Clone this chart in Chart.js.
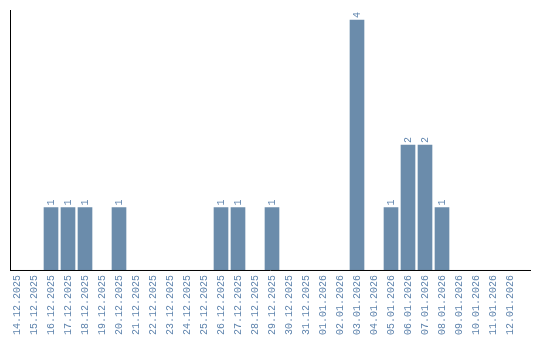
<!DOCTYPE html>
<html>
<head>
<meta charset="utf-8">
<script src="https://cdn.jsdelivr.net/npm/chart.js@4/dist/chart.umd.min.js"></script>
<style>
    body { margin: 0; background: #fff; }
    canvas { display: block; }
</style>
</head>
<body>
<canvas id="chart" width="540" height="340"></canvas>
<script>
const days = [
    "14.12.2025", "15.12.2025", "16.12.2025", "17.12.2025", "18.12.2025",
    "19.12.2025", "20.12.2025", "21.12.2025", "22.12.2025", "23.12.2025",
    "24.12.2025", "25.12.2025", "26.12.2025", "27.12.2025", "28.12.2025",
    "29.12.2025", "30.12.2025", "31.12.2025", "01.01.2026", "02.01.2026",
    "03.01.2026", "04.01.2026", "05.01.2026", "06.01.2026", "07.01.2026",
    "08.01.2026", "09.01.2026", "10.01.2026", "11.01.2026", "12.01.2026"
];
const counts = [
    0, 0, 1, 1, 1,
    0, 1, 0, 0, 0,
    0, 0, 1, 1, 0,
    1, 0, 0, 0, 0,
    4, 0, 1, 2, 2,
    1, 0, 0, 0, 0
];

const barColor = "#6b8cab";
const textColor = "#5f84ad";
const monoFont = { family: "'Liberation Mono', monospace", size: 10 };

// axis lines, drawn a bit past the plot like the original
const axisLines = {
    id: "axisLines",
    afterDraw(chart) {
        const ctx = chart.ctx;
        const y0 = chart.scales.y.getPixelForValue(0);
        ctx.save();
        ctx.strokeStyle = "#000";
        ctx.lineWidth = 1;
        ctx.beginPath();
        ctx.moveTo(10.5, chart.chartArea.top);
        ctx.lineTo(10.5, y0 + 1);
        ctx.moveTo(10, y0 + 0.5);
        ctx.lineTo(531, y0 + 0.5);
        ctx.stroke();
        ctx.restore();
    }
};

// rotated value labels above the bars
const valueLabels = {
    id: "valueLabels",
    afterDatasetsDraw(chart) {
        const ctx = chart.ctx;
        const meta = chart.getDatasetMeta(0);
        ctx.save();
        ctx.fillStyle = textColor;
        ctx.font = "10px 'Liberation Mono', monospace";
        ctx.textAlign = "left";
        ctx.textBaseline = "middle";
        meta.data.forEach((bar, i) => {
            if (!counts[i]) {
                return;
            }
            ctx.save();
            ctx.translate(bar.x, bar.y - 2);
            ctx.rotate(-Math.PI / 2);
            ctx.fillText(String(counts[i]), 0, 0);
            ctx.restore();
        });
        ctx.restore();
    }
};

new Chart(document.getElementById("chart"), {
    type: "bar",
    data: {
        labels: days,
        datasets: [{
            // empty days get no bar at all
            data: counts.map((v) => v || null),
            backgroundColor: barColor,
            borderWidth: 0,
            barThickness: 14
        }]
    },
    options: {
        responsive: false,
        animation: false,
        layout: {
            padding: { left: 8.5, right: 21.5, top: 10, bottom: 0 }
        },
        plugins: {
            legend: { display: false },
            tooltip: { enabled: false }
        },
        scales: {
            x: {
                offset: true,
                grid: { display: false, drawTicks: false },
                border: { display: false },
                ticks: {
                    autoSkip: false,
                    minRotation: 90,
                    maxRotation: 90,
                    padding: 5,
                    color: textColor,
                    font: monoFont
                }
            },
            y: {
                display: false,
                min: 0,
                max: 4.16
            }
        }
    },
    plugins: [axisLines, valueLabels]
});
</script>
</body>
</html>
